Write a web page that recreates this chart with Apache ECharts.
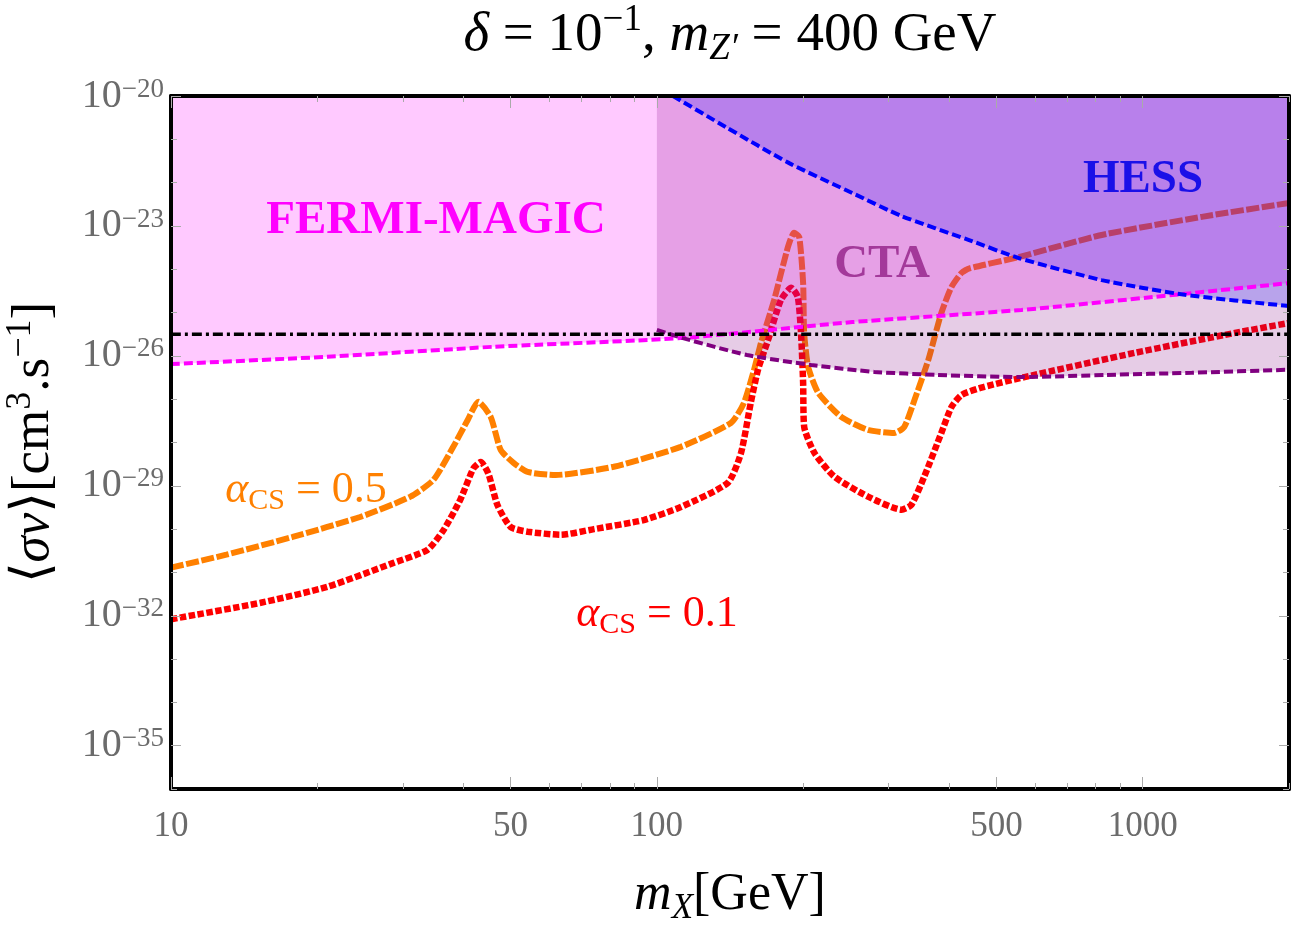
<!DOCTYPE html>
<html>
<head>
<meta charset="utf-8">
<title>sigma v vs m_X</title>
<script src="https://cdn.jsdelivr.net/npm/echarts@6.0.0/dist/echarts.min.js"></script>
<style>
  html, body { margin: 0; padding: 0; background: #fff; }
  #main { width: 1300px; height: 932px; }
</style>
</head>
<body>
<div id="main"></div>
<script>
// [m_X in GeV, log10 of <sigma v> in cm^3 s^-1]
const alpha05 = [[10,-30.89],[13,-30.59],[17.8,-30.18],[24.5,-29.72],[31.1,-29.25],[34.7,-28.86],[38.1,-28.10],[40.8,-27.48],[42.9,-27.06],[45.5,-27.41],[47.7,-28.17],[50.7,-28.47],[54.2,-28.68],[61.9,-28.75],[81.5,-28.56],[112,-28.10],[142,-27.55],[151,-27.09],[158.5,-26.32],[163.8,-25.70],[174.3,-24.71],[186.2,-23.48],[191.6,-23.16],[196.3,-23.25],[200,-24.32],[201,-25.47],[204.8,-26.25],[214.8,-26.85],[239.6,-27.41],[272,-27.71],[308,-27.78],[323,-27.64],[339,-27.02],[362,-26.09],[385,-25.01],[404,-24.41],[424,-24.08],[440,-23.98],[555,-23.72],[823,-23.21],[1323,-22.79],[2000,-22.47]];
const alpha01 = [[10,-32.08],[15.3,-31.70],[21,-31.33],[28.7,-30.78],[33.7,-30.48],[36.4,-30.02],[39.4,-29.32],[41.9,-28.6],[43.4,-28.45],[45,-28.72],[47,-29.45],[50,-29.95],[54.2,-30.06],[63.4,-30.13],[74.2,-30.0],[94,-29.79],[112,-29.49],[140,-28.93],[149,-28.24],[156,-27.09],[161.5,-26.32],[169.4,-25.63],[180,-24.71],[189,-24.43],[195,-24.64],[198,-25.47],[200,-26.62],[201,-27.64],[211,-28.24],[232,-28.79],[272,-29.25],[319,-29.55],[334,-29.44],[355,-28.79],[385,-27.78],[404,-27.18],[424,-26.9],[470,-26.72],[571,-26.49],[963,-25.93],[1548,-25.47],[2000,-25.24]];
const fermiMagic = [[10,-26.19],[21,-26.02],[46.1,-25.79],[112,-25.59],[252.5,-25.22],[563,-24.94],[1262,-24.55],[2000,-24.32]];
const cta = [[100,-25.40],[113.1,-25.59],[153.3,-25.98],[207.7,-26.21],[280.2,-26.37],[377.9,-26.44],[563,-26.49],[842.6,-26.44],[1262,-26.39],[2000,-26.32]];
const hess = [[107.9,-20.0],[138.8,-20.72],[187.2,-21.55],[252.5,-22.24],[318.6,-22.77],[437.7,-23.32],[555,-23.74],[823,-24.25],[1221,-24.59],[2000,-24.85]];
const thermal = [[10,-25.5],[2000,-25.5]];

const xLabels = [10, 50, 100, 500, 1000];
const xMinor = [20, 30, 40, 60, 70, 80, 90, 200, 300, 400, 600, 700, 800, 900, 2000];
const yLabels = [-35, -32, -29, -26, -23, -20];
const yMinor = [-36, -34, -33, -31, -30, -28, -27, -25, -24, -22, -21];

const SERIF = '"Liberation Serif", "DejaVu Serif", serif';
const GRAY = '#6b6b6b';
const lg = v => Math.log10(v);
const toLog = arr => arr.map(p => [lg(p[0]), p[1]]);

// rich-text styles for math: base, italic, superscript, subscript
function mathRich(size, color, key) {
  const small = Math.round(size * 0.68);
  const pad = Math.round(size * 0.1);
  const subPad = Math.round(pad + 0.755 * size - small / 2);
  const c = {};
  c[key] = color;
  return {
    n: Object.assign({ fontFamily: SERIF, fontSize: size, verticalAlign: 'top', padding: [pad, 0, 0, 0] }, c),
    i: Object.assign({ fontFamily: SERIF, fontStyle: 'italic', fontSize: size, verticalAlign: 'top', padding: [pad, 0, 0, 0] }, c),
    sup: Object.assign({ fontFamily: SERIF, fontSize: small, verticalAlign: 'top' }, c),
    sub: Object.assign({ fontFamily: SERIF, fontSize: small, verticalAlign: 'top', padding: [subPad, 0, 0, 0] }, c),
    isub: Object.assign({ fontFamily: SERIF, fontStyle: 'italic', fontSize: small, verticalAlign: 'top', padding: [subPad, 0, 0, 0] }, c)
  };
}

const chart = echarts.init(document.getElementById('main'));

const gridBox = { left: 171, right: 11, top: 96, bottom: 143, outerBoundsMode: 'none', containLabel: false };

function xAxis(grid, pos, ticks, len, extra) {
  return Object.assign({
    type: 'value', gridIndex: grid, position: pos, min: 1, max: lg(2000), z: 10,
    axisLine: { show: grid === 0, lineStyle: { color: '#000', width: 4 } },
    axisTick: { show: true, inside: true, length: len, customValues: ticks, lineStyle: { color: '#aaa', width: 1 } },
    axisLabel: { show: false },
    splitLine: { show: false }
  }, extra || {});
}
function yAxis(grid, pos, ticks, len, extra) {
  return Object.assign({
    type: 'value', gridIndex: grid, position: pos, min: -36, max: -20, z: 10,
    axisLine: { show: grid === 0, lineStyle: { color: '#000', width: 4 } },
    axisTick: { show: true, inside: true, length: len, customValues: ticks, lineStyle: { color: '#aaa', width: 1 } },
    axisLabel: { show: false },
    splitLine: { show: false }
  }, extra || {});
}

const xMajorLog = xLabels.map(lg);
const xMinorLog = xMinor.map(lg);

function curve(data, color, width, dash, z) {
  return {
    type: 'line', data: toLog(data), symbol: 'none', smooth: 0.2,
    lineStyle: { color: color, width: width, type: dash, cap: 'butt' },
    z: z, silent: true
  };
}
function region(data, color) {
  return {
    type: 'line', data: toLog(data), symbol: 'none', smooth: 0.2,
    lineStyle: { width: 0, opacity: 0 },
    areaStyle: { color: color, origin: 'end', opacity: 1 },
    z: 3, silent: true
  };
}

function alphaLabel(x, y, val, color) {
  return {
    type: 'text', x: x, y: y, z: 100,
    style: {
      text: '{i|α}{sub|CS}{n| = ' + val + '}', align: 'center', verticalAlign: 'middle',
      rich: mathRich(44, color, 'fill')
    }
  };
}

const option = {
  animation: false,
  backgroundColor: '#fff',
  grid: [Object.assign({}, gridBox), Object.assign({}, gridBox)],
  xAxis: [
    xAxis(0, 'bottom', xMajorLog, 12, {
      axisLabel: {
        show: true, customValues: xMajorLog, margin: 20,
        formatter: v => String(Math.round(Math.pow(10, v))),
        color: GRAY, fontFamily: SERIF, fontSize: 35
      },
      name: '{i|m}{isub|X}{n|[GeV]}', nameLocation: 'middle', nameGap: 75,
      nameTextStyle: { rich: mathRich(52, '#000', 'color') }
    }),
    xAxis(0, 'top', xMajorLog, 12),
    xAxis(1, 'bottom', xMinorLog, 6),
    xAxis(1, 'top', xMinorLog, 6)
  ],
  yAxis: [
    yAxis(0, 'left', yLabels, 10, {
      axisLabel: {
        show: true, customValues: yLabels, margin: 7,
        formatter: v => '{b|10}{s|−' + Math.abs(v) + '}',
        rich: {
          b: { fontFamily: SERIF, fontSize: 40, lineHeight: 40, verticalAlign: 'bottom', color: GRAY },
          s: { fontFamily: SERIF, fontSize: 27, lineHeight: 24, verticalAlign: 'top', color: GRAY }
        }
      },
      name: '{n|⟨}{i|σv}{n|⟩[cm}{sup|3}{n|.s}{sup|−1}{n|]}', nameLocation: 'middle', nameRotate: 90, nameGap: 110,
      nameTextStyle: { rich: mathRich(53, '#000', 'color') }
    }),
    yAxis(0, 'right', yLabels, 10),
    yAxis(1, 'left', yMinor, 6),
    yAxis(1, 'right', yMinor, 6)
  ],
  graphic: [
    {
      type: 'text', x: 730, y: 35, z: 100,
      style: {
        text: '{i|δ}{n| = 10}{sup|−1}{n|, }{i|m}{isub|Z′}{n| = 400 GeV}',
        align: 'center', verticalAlign: 'middle',
        rich: mathRich(55, '#000', 'fill')
      }
    },
    {
      type: 'text', x: 436, y: 221, z: 100,
      style: { text: 'FERMI-MAGIC', fontFamily: SERIF, fontWeight: 'bold', fontSize: 47, fill: '#ff00ff', align: 'center', verticalAlign: 'middle' }
    },
    {
      type: 'text', x: 1143, y: 180, z: 100,
      style: { text: 'HESS', fontFamily: SERIF, fontWeight: 'bold', fontSize: 47, fill: '#1a10e8', align: 'center', verticalAlign: 'middle' }
    },
    {
      type: 'text', x: 882, y: 265, z: 100,
      style: { text: 'CTA', fontFamily: SERIF, fontWeight: 'bold', fontSize: 47, fill: '#a3399a', align: 'center', verticalAlign: 'middle' }
    },
    alphaLabel(306, 490, '0.5', '#ff8000'),
    alphaLabel(657, 614, '0.1', '#ff0000')
  ],
  series: [
    curve(alpha05, '#ff8000', 6, [13, 2.5], 2),
    curve(alpha01, '#ff0000', 6.5, [6.5, 2.5], 2),
    region(fermiMagic, 'rgba(255,0,255,0.21)'),
    region(cta, 'rgba(128,0,128,0.2)'),
    region(hess, 'rgba(0,0,255,0.2)'),
    curve(fermiMagic, '#ff00ff', 4, [9, 4], 4),
    curve(cta, '#800080', 4, [9, 4], 4),
    curve(hess, '#0000ff', 4, [9, 4], 4),
    curve(thermal, '#000', 3.5, [10, 4, 3, 4], 4)
  ]
};

chart.setOption(option);
</script>
</body>
</html>
